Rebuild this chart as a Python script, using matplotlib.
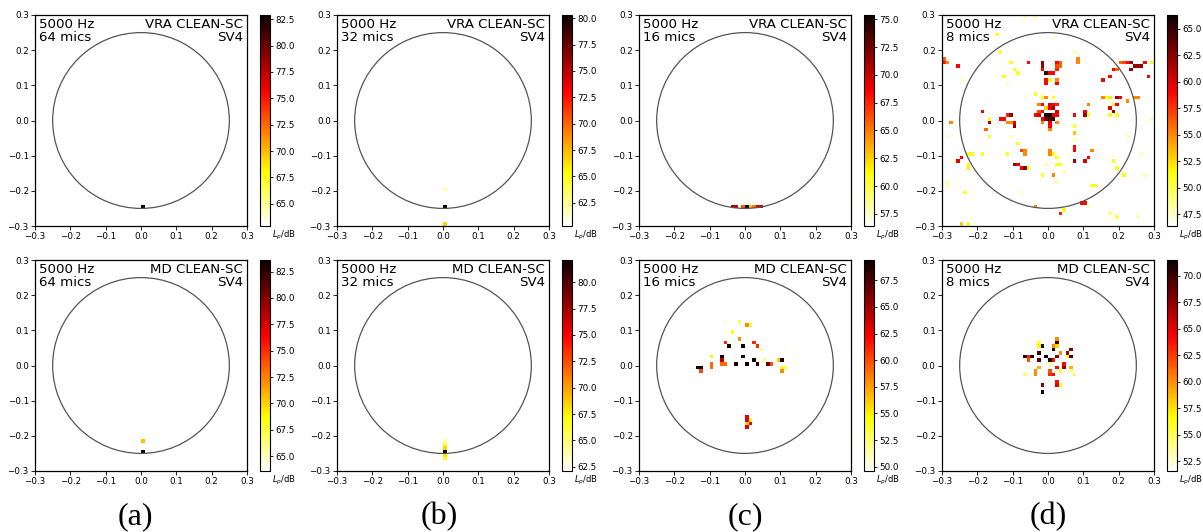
import numpy as np
import matplotlib
matplotlib.use("Agg")
import matplotlib.pyplot as plt
from matplotlib.patches import Circle
from matplotlib.ticker import MultipleLocator

freq_label = "5000 Hz"
mic_counts = [64, 32, 16, 8]
methods = ["VRA CLEAN-SC", "MD CLEAN-SC"]
sv_label = "SV4"
panel_letters = ["(a)", "(b)", "(c)", "(d)"]
cbar_label = "$L_p$/dB"

# colour ranges (dB) for each column
vra_vmin = [62.9, 60.3, 56.4, 46.4]
vra_vmax = [82.9, 80.3, 75.4, 66.3]
md_vmin = [63.6, 62.1, 49.6, 51.6]
md_vmax = [83.6, 82.1, 69.4, 71.5]

# map cells: (x, y, level dB)
vra_64 = [(0.005, -0.245, 82.9)]
vra_32 = [(0.005, -0.245, 80.3), (0.005, -0.195, 62.0), (0.005, -0.295, 66.7)]
vra_16 = [(-0.035, -0.245, 71.0), (-0.025, -0.245, 70.5), (-0.005, -0.245, 66.0),
          (0.005, -0.245, 75.4), (0.015, -0.245, 63.0), (0.025, -0.245, 65.0),
          (0.035, -0.245, 69.0), (0.045, -0.245, 70.0)]
vra_8 = [
    (-0.065, 0.295, 48), (-0.035, 0.295, 48), (-0.145, 0.245, 51), (0.015, 0.235, 47.5),
    (-0.135, 0.195, 51), (0.075, 0.195, 48), (-0.295, 0.165, 58), (-0.285, 0.165, 55),
    (-0.295, 0.175, 56), (-0.255, 0.155, 59), (-0.245, 0.115, 47.5), (-0.105, 0.165, 51),
    (-0.055, 0.165, 59), (-0.095, 0.145, 51), (-0.085, 0.135, 51), (-0.125, 0.125, 51),
    (-0.115, 0.105, 48), (-0.015, 0.165, 62), (-0.015, 0.155, 62), (-0.015, 0.145, 59),
    (-0.005, 0.135, 65), (0.005, 0.135, 59), (0.015, 0.135, 59), (0.025, 0.155, 57),
    (0.035, 0.155, 56), (0.025, 0.145, 58), (0.025, 0.165, 59), (0.035, 0.165, 56),
    (-0.005, 0.115, 59), (-0.005, 0.105, 59), (0.005, 0.115, 51), (0.025, 0.115, 55),
    (0.025, 0.105, 59), (-0.035, 0.075, 51), (-0.015, 0.075, 48),
    (-0.015, 0.065, 51), (-0.005, 0.065, 55), (0.015, 0.065, 51), (-0.025, 0.045, 55),
    (-0.015, 0.045, 59), (0.005, 0.045, 60), (0.015, 0.045, 59), (0.025, 0.045, 58),
    (-0.005, 0.035, 53), (0.005, 0.035, 60), (0.015, 0.035, 62), (-0.035, 0.015, 59),
    (-0.025, 0.015, 60), (-0.015, 0.025, 59), (-0.005, 0.015, 66), (0.005, 0.015, 66),
    (-0.005, 0.005, 63), (0.015, 0.015, 60), (0.015, 0.005, 65), (-0.015, 0.005, 59),
    (0.025, 0.015, 59), (0.005, -0.005, 60), (0.005, -0.015, 59), (-0.015, -0.005, 55),
    (0.025, -0.005, 55), (0.005, -0.025, 55), (0.005, 0.005, 64), (-0.025, 0.025, 57),
    (0.025, 0.025, 60),
    (-0.185, 0.025, 59), (-0.165, 0.005, 51), (-0.165, -0.005, 62), (-0.175, -0.025, 56),
    (-0.135, 0.005, 59), (-0.125, 0.005, 59), (-0.115, 0.015, 58), (-0.105, 0.015, 62),
    (-0.115, -0.005, 55), (-0.105, -0.005, 55), (-0.095, -0.015, 62), (-0.095, -0.005, 60),
    (-0.275, -0.005, 55), (-0.165, -0.045, 51), (-0.285, -0.045, 48),
    (0.075, 0.015, 59), (0.105, 0.025, 59), (0.105, 0.015, 62), (0.115, 0.015, 51),
    (0.115, 0.045, 55), (0.155, 0.065, 55), (0.165, 0.065, 51), (0.175, 0.065, 52),
    (0.195, 0.065, 62), (0.205, 0.065, 59), (0.195, 0.045, 59), (0.185, 0.045, 51),
    (0.175, 0.035, 60), (0.185, 0.025, 62), (0.175, 0.015, 51), (0.195, 0.015, 51),
    (0.225, 0.055, 55), (0.245, 0.065, 55), (0.255, 0.065, 55), (0.295, 0.005, 48),
    (0.085, 0.175, 55), (0.085, 0.165, 55), (0.155, 0.115, 59), (0.175, 0.125, 59),
    (0.185, 0.145, 59), (0.195, 0.145, 56), (0.205, 0.165, 56), (0.215, 0.165, 57),
    (0.225, 0.165, 59), (0.235, 0.165, 62), (0.245, 0.155, 62), (0.255, 0.155, 62),
    (0.265, 0.155, 62), (0.235, 0.145, 62), (0.275, 0.165, 59), (0.285, 0.125, 59),
    (0.295, 0.165, 51),
    (-0.085, -0.065, 51), (-0.075, -0.085, 57), (-0.065, -0.085, 55), (-0.065, -0.095, 55),
    (-0.105, -0.045, 48), (-0.225, -0.095, 51), (-0.215, -0.095, 51), (-0.185, -0.095, 51),
    (-0.245, -0.105, 59), (-0.255, -0.115, 60), (-0.265, -0.115, 48), (-0.225, -0.125, 51),
    (-0.225, -0.135, 52), (-0.285, -0.175, 48), (-0.285, -0.185, 48), (-0.115, -0.095, 51),
    (-0.095, -0.125, 62), (-0.085, -0.125, 60), (-0.075, -0.135, 59), (-0.065, -0.135, 63),
    (-0.055, -0.135, 51),
    (0.005, -0.085, 55), (0.005, -0.095, 55), (0.015, -0.095, 51), (0.025, -0.105, 51),
    (0.025, -0.125, 51), (0.035, -0.125, 51), (-0.005, -0.125, 48), (-0.015, -0.155, 51),
    (0.015, -0.155, 55), (0.045, -0.145, 48), (0.025, -0.175, 48),
    (0.075, -0.085, 59), (0.075, -0.075, 59), (0.075, -0.115, 62), (0.075, -0.015, 51),
    (0.075, -0.035, 53), (0.075, -0.055, 48), (0.105, -0.115, 60), (0.115, -0.105, 59),
    (0.125, -0.085, 55),
    (0.185, -0.115, 51), (0.195, -0.135, 51), (0.215, -0.155, 51), (0.275, -0.155, 48),
    (0.265, -0.095, 48), (0.225, -0.045, 48), (0.125, -0.185, 51), (0.135, -0.185, 51),
    (-0.235, -0.205, 51), (-0.075, -0.205, 48), (0.095, -0.235, 59), (0.105, -0.235, 59),
    (0.115, -0.245, 48), (-0.035, -0.245, 55), (0.045, -0.255, 51), (0.035, -0.265, 58),
    (0.175, -0.265, 49), (0.195, -0.275, 50), (0.255, -0.275, 48), (-0.245, -0.295, 53),
    (-0.225, -0.295, 51),
]

md_64 = [(0.005, -0.245, 83.6), (0.005, -0.215, 70.6)]
md_32 = [(0.005, -0.215, 64.0), (0.005, -0.225, 66.5), (0.005, -0.235, 68.5),
         (0.005, -0.245, 82.1), (0.005, -0.255, 68.0), (0.005, -0.265, 66.5)]
md_16 = [
    (-0.055, 0.125, 50.5), (-0.015, 0.125, 54), (0.005, 0.115, 58), (0.015, 0.115, 54),
    (-0.035, 0.095, 54), (-0.015, 0.075, 58), (-0.055, 0.065, 61), (0.025, 0.065, 61),
    (-0.045, 0.055, 69), (-0.005, 0.055, 69), (0.035, 0.055, 61), (0.045, 0.045, 52),
    (-0.095, 0.025, 55), (-0.065, 0.025, 69), (-0.005, 0.025, 69), (0.025, 0.015, 69),
    (0.055, 0.015, 52), (0.095, 0.015, 56), (0.105, 0.015, 69), (-0.135, -0.005, 69),
    (-0.125, -0.005, 69), (-0.125, -0.015, 60), (-0.095, 0.005, 59), (-0.095, -0.005, 59),
    (-0.065, 0.015, 64), (-0.065, 0.005, 59), (-0.055, 0.005, 59), (-0.025, 0.005, 69),
    (0.005, 0.005, 69), (0.035, 0.005, 69), (0.065, 0.005, 67), (0.075, 0.005, 60),
    (0.105, -0.005, 54), (0.115, -0.005, 54), (0.105, -0.015, 58), (0.115, 0.055, 50.2),
    (0.005, -0.145, 63), (0.005, -0.155, 63), (0.015, -0.155, 54), (0.015, -0.165, 63),
    (0.005, -0.175, 63), (0.005, -0.165, 56),
]
md_8 = [
    (-0.025, 0.065, 56), (-0.025, 0.055, 57), (-0.015, 0.055, 71), (0.025, 0.075, 60),
    (0.025, 0.065, 70), (0.015, 0.055, 60), (0.025, 0.055, 58), (0.015, 0.045, 71),
    (0.065, 0.045, 68), (0.035, 0.035, 60), (-0.025, 0.035, 70), (0.055, 0.035, 67),
    (-0.065, 0.025, 71), (-0.055, 0.025, 63), (-0.045, 0.025, 71), (-0.055, 0.015, 62),
    (-0.005, 0.025, 71), (0.005, 0.015, 71), (0.015, 0.015, 64), (-0.025, 0.015, 69),
    (0.025, 0.025, 68), (0.055, 0.025, 56), (0.065, 0.025, 70), (0.045, 0.005, 64),
    (0.045, -0.005, 67), (0.005, 0.005, 54), (-0.025, -0.005, 59), (0.065, -0.005, 59),
    (0.025, -0.005, 64), (0.005, -0.015, 62), (0.005, -0.025, 63), (0.015, -0.025, 64),
    (-0.035, -0.015, 60), (-0.035, -0.025, 60), (-0.065, -0.025, 55), (0.035, -0.015, 56),
    (0.065, -0.015, 54), (0.075, -0.025, 55), (0.025, -0.045, 64), (0.025, -0.055, 65),
    (0.035, -0.055, 56), (-0.015, -0.055, 68), (-0.015, -0.075, 71),
]

vra_maps = [vra_64, vra_32, vra_16, vra_8]
md_maps = [md_64, md_32, md_16, md_8]

# ---------------------------------------------------------------
W, H = 1203, 532
fig = plt.figure(figsize=(W / 100, H / 100), dpi=100)

edges = np.linspace(-0.3, 0.3, 61)


def make_grid(cells):
    Z = np.full((60, 60), np.nan)
    for x, y, v in cells:
        i = int(np.floor((x + 0.3) / 0.01 + 1e-6))
        j = int(np.floor((y + 0.3) / 0.01 + 1e-6))
        Z[j, i] = v
    return np.ma.masked_invalid(Z)


ax_left = [35, 337, 639, 942]
row_top = [15, 260]
ax_w, ax_h = 212, 211
cb_off, cb_w = 225, 10

for col in range(4):
    for row in range(2):
        cells = vra_maps[col] if row == 0 else md_maps[col]
        vmin = vra_vmin[col] if row == 0 else md_vmin[col]
        vmax = vra_vmax[col] if row == 0 else md_vmax[col]
        method = methods[row]
        l = ax_left[col]
        t = row_top[row]
        ax = fig.add_axes([l / W, (H - t - ax_h) / H, ax_w / W, ax_h / H])
        Z = make_grid(cells)
        mesh = ax.pcolormesh(edges, edges, Z, cmap="hot_r", vmin=vmin, vmax=vmax)
        ax.add_patch(Circle((0, 0), 0.25, fill=False, ec="#555555", lw=0.9))
        ax.set_xlim(-0.3, 0.3)
        ax.set_ylim(-0.3, 0.3)
        ax.set_xticks(np.round(np.arange(-0.3, 0.31, 0.1), 1))
        ax.set_yticks(np.round(np.arange(-0.3, 0.31, 0.1), 1))
        ax.tick_params(labelsize=6.3, length=3, width=0.6, pad=1.5)
        for sp in ax.spines.values():
            sp.set_linewidth(0.9)
        ax.text(0.02, 0.985, f"{freq_label}\n{mic_counts[col]} mics", transform=ax.transAxes,
                ha="left", va="top", fontsize=9.6, linespacing=0.95)
        ax.text(0.98, 0.985, f"{method}\n{sv_label}", transform=ax.transAxes,
                ha="right", va="top", fontsize=9.6, linespacing=0.95, multialignment="right")

        cax = fig.add_axes([(l + cb_off) / W, (H - t - ax_h) / H, cb_w / W, ax_h / H])
        cb = fig.colorbar(mesh, cax=cax)
        cb.locator = MultipleLocator(2.5)
        cb.update_ticks()
        cax.tick_params(labelsize=6.3, length=2.5, width=0.6, pad=1.5)
        cb.outline.set_linewidth(0.8)
        cax.text(1.2, -0.012, cbar_label, transform=cax.transAxes, ha="left", va="top", fontsize=6)

label_x = [135, 439, 745, 1048]
for k in range(4):
    fig.text(label_x[k] / W, 1 - 517 / H, panel_letters[k], ha="center", va="center",
             fontsize=23, family="Liberation Serif")

fig.savefig("out.png", dpi=100)
